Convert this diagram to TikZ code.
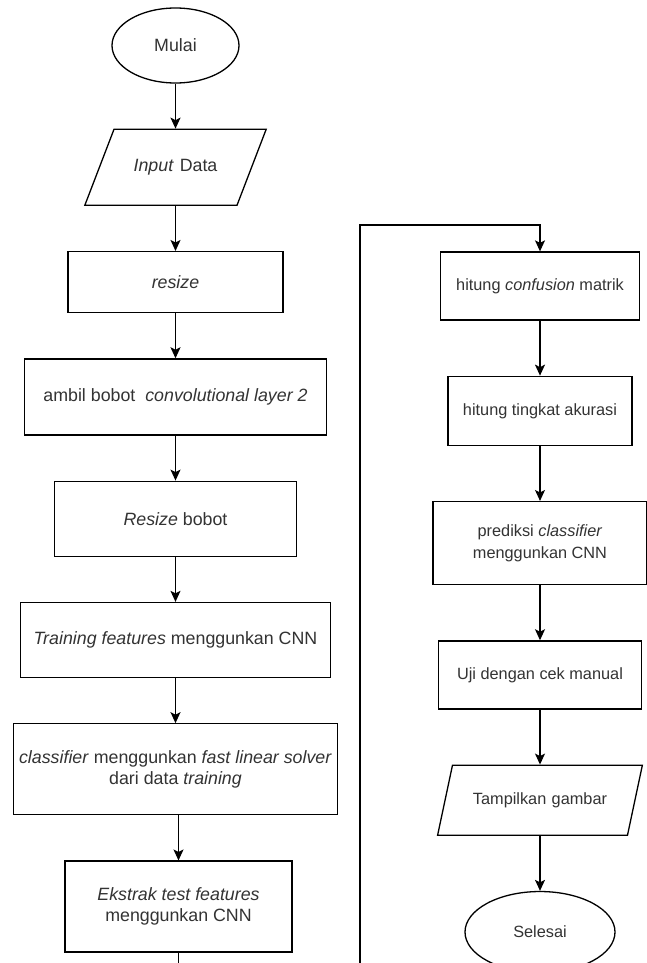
\documentclass[tikz,border=0pt]{standalone}
\usepackage{fontspec}
\setmainfont{Liberation Sans}
\usetikzlibrary{shapes.geometric, positioning}
\usetikzlibrary{arrows.meta}
\tikzset{>={Stealth[width=10pt,length=11pt,inset=2.5pt]}}

\begin{document}
\begin{tikzpicture}[x=1pt, y=-1pt, node distance=45pt, process/.style={rectangle, draw=black, line width=1.3pt, inner sep=0pt, align=center, text=black!80, font=\fontsize{17.8}{21.5}\selectfont}, terminal/.style={ellipse, draw=black, line width=1.3pt, inner sep=0pt, text=black!80, font=\fontsize{17.8}{21.5}\selectfont}, io/.style={trapezium, draw=black, line width=1.3pt, inner xsep=0pt, align=center, text height=13pt, text depth=4pt, text=black!80, font=\fontsize{17.8}{21.5}\selectfont}, smalltext/.style={font=\fontsize{16.3}{21.5}\selectfont}, line/.style={->, line width=1.3pt}]

    \useasboundingbox[fill=white] (0,0) rectangle (646,963);

    %Nodes
    \node[terminal, minimum width=127pt, minimum height=75pt](mulai) at (175.5,45.5){Mulai};
    \node[io, trapezium left angle=69, trapezium right angle=111, text width=123pt, inner ysep=29.5pt](input)[below=of mulai]{\textit{Input} Data};
    \node[process, minimum width=215pt, minimum height=61pt](resize)[below=of input]{\textit{resize}};
    \node[process, minimum width=302pt, minimum height=76pt](ambil)[below=of resize]{ambil bobot\ \ \textit{convolutional layer 2}};
    \node[process, minimum width=242pt, minimum height=75pt](bobot)[below=of ambil]{\textit{Resize} bobot};
    \node[process, minimum width=310pt, minimum height=75pt](training)[below=of bobot]{\textit{Training features} menggunkan CNN};
    \node[process, minimum width=324pt, minimum height=91pt](classifier)[below=of training]{\textit{classifier} menggunkan \textit{fast linear solver}\\dari data \textit{training}};
    \node[process, minimum width=227pt, minimum height=91pt](ekstrak)[below=of classifier, xshift=3pt]{\textit{Ekstrak test features}\\menggunkan CNN};

    \node[process, smalltext, minimum width=199pt, minimum height=68pt](confusion) at (540,286){hitung \textit{confusion} matrik};
    \node[process, smalltext, minimum width=184pt, minimum height=69pt](akurasi)[below=55pt of confusion]{hitung tingkat akurasi};
    \node[process, smalltext, minimum width=214pt, minimum height=83pt](prediksi)[below=55pt of akurasi]{prediksi \textit{classifier}\\menggunkan CNN};
    \node[process, smalltext, minimum width=203pt, minimum height=68pt](uji)[below=55pt of prediksi]{Uji dengan cek manual};
    \node[io, smalltext, trapezium left angle=78, trapezium right angle=102, text width=175pt, inner ysep=26.5pt](tampilkan)[below=55pt of uji]{Tampilkan gambar};
    \node[terminal, smalltext, minimum width=150pt, minimum height=81pt](selesai)[below=55pt of tampilkan]{Selesai};

    \coordinate (turnleft) at (360,225);

    %Lines
    \draw[line] (mulai.south) -- (input.north);
    \draw[line] (input.south) -- (resize.north);
    \draw[line] (resize.south) -- (ambil.north);
    \draw[line] (ambil.south) -- (bobot.north);
    \draw[line] (bobot.south) -- (training.north);
    \draw[line] (training.south) -- (classifier.north);
    \draw[line] (classifier.south -| ekstrak.north) -- (ekstrak.north);
    \draw[line] (ekstrak.south) -- ++(0,60) -| (turnleft) -| (confusion.north);
    \draw[line] (confusion.south) -- (akurasi.north);
    \draw[line] (akurasi.south) -- (prediksi.north);
    \draw[line] (prediksi.south) -- (uji.north);
    \draw[line] (uji.south) -- (tampilkan.north);
    \draw[line] (tampilkan.south) -- (selesai.north);

\end{tikzpicture}
\end{document}
